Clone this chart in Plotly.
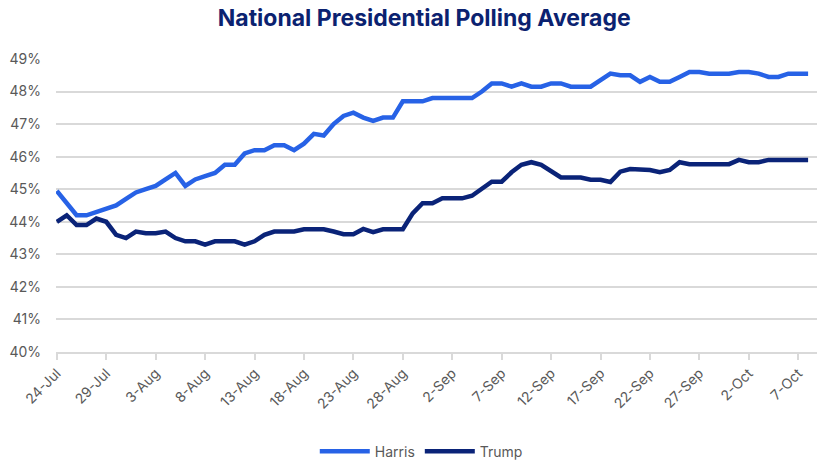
import datetime as dt
import plotly.graph_objects as go

start_date = "2024-07-24"
harris = [44.95, 44.6, 44.2, 44.2, 44.3, 44.4, 44.5, 44.7, 44.9, 45.0,
          45.1, 45.3, 45.5, 45.1, 45.3, 45.4, 45.5, 45.75, 45.75, 46.1,
          46.2, 46.2, 46.35, 46.35, 46.2, 46.4, 46.7, 46.65, 47.0, 47.25,
          47.35, 47.2, 47.1, 47.2, 47.2, 47.7, 47.7, 47.7, 47.8, 47.8,
          47.8, 47.8, 47.8, 48.0, 48.25, 48.25, 48.15, 48.25, 48.15, 48.15,
          48.25, 48.25, 48.15, 48.15, 48.15, 48.35, 48.55, 48.5, 48.5, 48.3,
          48.45, 48.3, 48.3, 48.45, 48.6, 48.6, 48.55, 48.55, 48.55, 48.6,
          48.6, 48.55, 48.45, 48.45, 48.55, 48.55, 48.55]
trump = [44.0, 44.2, 43.9, 43.9, 44.1, 44.0, 43.6, 43.5, 43.7, 43.65,
         43.65, 43.7, 43.5, 43.4, 43.4, 43.3, 43.4, 43.4, 43.4, 43.3,
         43.4, 43.6, 43.7, 43.7, 43.7, 43.77, 43.77, 43.77, 43.7, 43.62,
         43.62, 43.78, 43.68, 43.77, 43.77, 43.77, 44.26, 44.57, 44.57, 44.72,
         44.72, 44.72, 44.8, 45.03, 45.23, 45.23, 45.52, 45.75, 45.83, 45.75,
         45.56, 45.36, 45.36, 45.36, 45.29, 45.29, 45.22, 45.54, 45.62, 45.62,
         45.59, 45.52, 45.59, 45.83, 45.77, 45.77, 45.77, 45.77, 45.77, 45.9,
         45.83, 45.83, 45.9, 45.9, 45.9, 45.9, 45.9]
tick_labels = ["24-Jul", "29-Jul", "3-Aug", "8-Aug", "13-Aug", "18-Aug", "23-Aug",
               "28-Aug", "2-Sep", "7-Sep", "12-Sep", "17-Sep", "22-Sep", "27-Sep",
               "2-Oct", "7-Oct"]
y_ticks = [40, 41, 42, 43, 44, 45, 46, 47, 48, 49]

d0 = dt.datetime.fromisoformat(start_date)
dates = [d0 + dt.timedelta(days=i) for i in range(len(harris))]
tick_vals = [d0 + dt.timedelta(days=5 * i) for i in range(len(tick_labels))]

HARRIS_C = "#2762E6"
TRUMP_C = "#0A2378"
GRID_C = "#D9D9D9"
TXT_C = "#595959"
FONT = "Inter"

fig = go.Figure()
fig.add_trace(go.Scatter(x=dates, y=[v / 100 for v in harris], name="Harris",
                         mode="lines", line=dict(color=HARRIS_C, width=4.5)))
fig.add_trace(go.Scatter(x=dates, y=[v / 100 for v in trump], name="Trump",
                         mode="lines", line=dict(color=TRUMP_C, width=4.5)))

fig.update_layout(
    width=840, height=472,
    margin=dict(l=56, r=23, t=59, b=120, autoexpand=False),
    paper_bgcolor="white", plot_bgcolor="white",
    font=dict(family=FONT, color=TXT_C, size=14),
    title=dict(text="<b>National Presidential Polling Average</b>",
               x=0.505, xanchor="center", y=0.963, yanchor="middle",
               font=dict(family=FONT, size=23, color="#0B2270")),
    showlegend=True,
    legend=dict(orientation="h", x=0.48, xanchor="center", y=-0.34, yanchor="middle",
                font=dict(size=14, color=TXT_C), itemwidth=50, tracegroupgap=0),
)
fig.update_xaxes(
    type="date", automargin=False,
    range=[d0 - dt.timedelta(hours=2), d0 + dt.timedelta(days=76.9)],
    tickvals=tick_vals, ticktext=tick_labels, tickangle=-45,
    showgrid=False, showline=True, linecolor=GRID_C, linewidth=1.5,
    ticks="outside", ticklen=6, tickcolor=GRID_C, tickwidth=1.5,
    tickfont=dict(size=14, color=TXT_C), zeroline=False,
)
fig.update_yaxes(
    range=[0.40, 0.49], automargin=False,
    tickvals=[v / 100 for v in y_ticks], ticktext=[f"{v}%" for v in y_ticks],
    showgrid=True, gridcolor=GRID_C, gridwidth=1.5,
    showline=False, zeroline=False, ticks="", ticklabelstandoff=14,
    tickfont=dict(size=14, color=TXT_C),
)

fig.write_html("out.html", config={"displayModeBar": False},
               post_script="document.body.style.margin='0';document.body.style.overflow='hidden';")
